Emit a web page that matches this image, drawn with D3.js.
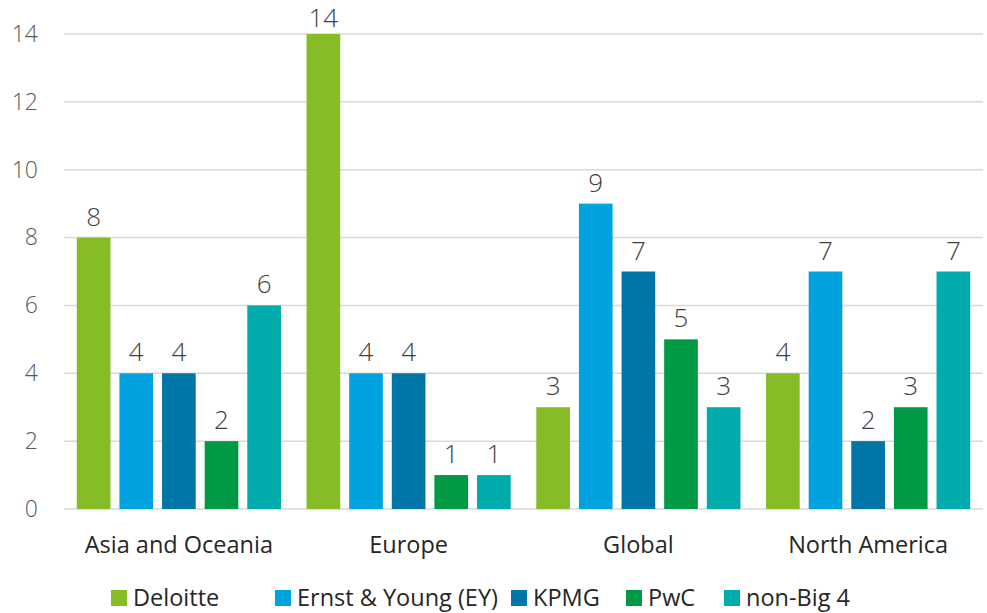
<!DOCTYPE html>
<html>
<head>
<meta charset="utf-8">
<script src="https://cdn.jsdelivr.net/npm/d3@7"></script>
<style>
  body { margin: 0; background: #fff; }
  svg text { font-family: "Open Sans", "Noto Sans", sans-serif; }
</style>
</head>
<body>
<div id="chart"></div>
<script>
const categories = ['Asia and Oceania', 'Europe', 'Global', 'North America'];
const seriesNames = ['Deloitte', 'Ernst & Young (EY)', 'KPMG', 'PwC', 'non-Big 4'];
const deloitte = [8, 14, 3, 4];
const ey = [4, 4, 9, 7];
const kpmg = [4, 4, 7, 2];
const pwc = [2, 1, 5, 3];
const nonBig4 = [6, 1, 3, 7];
const yTicks = [0, 2, 4, 6, 8, 10, 12, 14];
const colors = ['#86BC25', '#00A3E0', '#0076A8', '#009A44', '#00ABAB'];

const seriesValues = [deloitte, ey, kpmg, pwc, nonBig4];

const width = 987, height = 613;
const margin = { top: 34, right: 4, bottom: 104, left: 64 };

const svg = d3.select('#chart').append('svg')
  .attr('width', width)
  .attr('height', height);

const x0 = d3.scaleBand()
  .domain(categories)
  .range([margin.left, width - margin.right])
  .padding(0);

const x1 = d3.scaleBand()
  .domain(seriesNames)
  .range([0, x0.bandwidth()])
  .paddingInner(0.21)
  .paddingOuter(0.3);

const y = d3.scaleLinear()
  .domain([0, 14])
  .range([height - margin.bottom, margin.top]);

// gridlines
svg.append('g')
  .selectAll('line')
  .data(yTicks)
  .enter()
  .append('line')
  .attr('x1', margin.left)
  .attr('x2', width - margin.right)
  .attr('y1', d => y(d))
  .attr('y2', d => y(d))
  .attr('stroke', '#d9d9d9')
  .attr('stroke-width', 1.5);

// y axis labels
const yAxis = svg.append('g')
  .attr('transform', `translate(${margin.left - 26},0)`)
  .call(d3.axisLeft(y).tickValues(yTicks).tickSize(0).tickPadding(0));
yAxis.select('.domain').remove();
yAxis.selectAll('text')
  .attr('font-size', 23)
  .attr('font-weight', 300)
  .attr('fill', '#595959')
  .attr('font-family', '"Open Sans", "Noto Sans", sans-serif');

// bars
const groups = svg.append('g')
  .selectAll('g')
  .data(categories)
  .enter()
  .append('g')
  .attr('transform', d => `translate(${x0(d)},0)`);

const cellData = (c, ci) => seriesNames.map((s, si) => ({ s, si, v: seriesValues[si][ci] }));

groups.selectAll('rect')
  .data(cellData)
  .enter()
  .append('rect')
  .attr('x', d => x1(d.s))
  .attr('y', d => y(d.v))
  .attr('width', x1.bandwidth())
  .attr('height', d => y(0) - y(d.v))
  .attr('fill', d => colors[d.si]);

// value labels, kept inside the top of the chart
groups.selectAll('text')
  .data(cellData)
  .enter()
  .append('text')
  .attr('x', d => x1(d.s) + x1.bandwidth() / 2)
  .attr('y', d => Math.max(y(d.v) - 12, 27))
  .attr('text-anchor', 'middle')
  .attr('font-size', 26)
  .attr('font-weight', 300)
  .attr('fill', '#404040')
  .text(d => d.v);

// x axis category labels
const xAxis = svg.append('g')
  .attr('transform', `translate(0,${y(0)})`)
  .call(d3.axisBottom(x0).tickSize(0).tickPadding(0));
xAxis.select('.domain').remove();
xAxis.selectAll('text')
  .attr('dy', 44)
  .attr('font-size', 23.5)
  .attr('fill', '#262626')
  .attr('font-family', '"Open Sans", "Noto Sans", sans-serif');

// legend
const legendX = [111, 275, 511, 626, 724];
const legend = svg.append('g')
  .selectAll('g')
  .data(seriesNames)
  .enter()
  .append('g')
  .attr('transform', (d, i) => `translate(${legendX[i]},590)`);

legend.append('rect')
  .attr('width', 16)
  .attr('height', 16)
  .attr('fill', (d, i) => colors[i]);

legend.append('text')
  .attr('x', 22)
  .attr('y', 16)
  .attr('font-size', 23.5)
  .attr('fill', '#262626')
  .text(d => d);
</script>
</body>
</html>
